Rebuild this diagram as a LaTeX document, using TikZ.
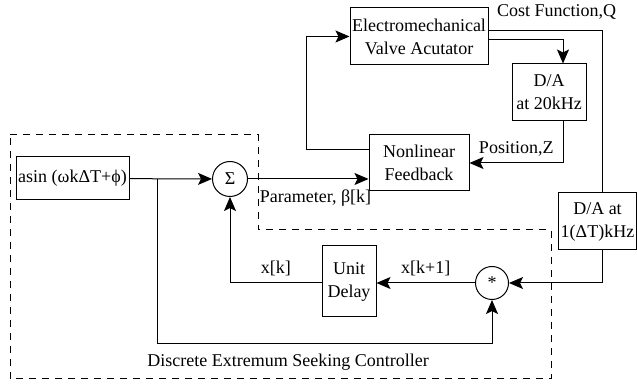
\documentclass[tikz,border=0pt]{standalone}
\usepackage{fontspec}
\setmainfont{Liberation Serif}
\usetikzlibrary{arrows.meta}

\begin{document}
\begin{tikzpicture}[x=0.5pt, y=-0.5pt, line width=0.5pt,
        font=\fontsize{9}{11.5}\selectfont,
        block/.style={draw, rectangle, align=center, inner sep=1pt},
        junction/.style={draw, circle, inner sep=0pt},
        arr/.style={-{Stealth[length=7pt, width=6pt, inset=1.5pt]}},
        ctrlbound/.style={dash pattern=on 3.5pt off 3pt}]
            \useasboundingbox (0,0) rectangle (637,384);
            % Controller blocks
            \node[block, minimum width=56.5pt, minimum height=21.5pt] (sine)  at ( 72.5,178.5) {asin (ωkΔT+ϕ)};
            \node[junction, minimum size=17.5pt]                      (sum)   at (230.0,179.0) {Σ};
            \node[junction, minimum size=16.5pt]                      (mult)  at (492.0,283.0) {\small *};
            \node[block, minimum width=27pt, minimum height=35.5pt]   (delay) at (349.0,281.5) {Unit\\Delay};
            % Plant blocks
            \node[block, minimum width=50pt, minimum height=28pt]     (nlf)   at (419.0,163.0) {Nonlinear\\Feedback};
            \node[block, minimum width=69pt, minimum height=28.5pt]   (emva)  at (419.0, 36.5) {Electromechanical\\Valve Acutator};
            \node[block, minimum width=37pt, minimum height=28.5pt]   (da20)  at (549.0, 92.5) {D/A\\at 20kHz};
            \node[block, minimum width=38.5pt, minimum height=28.5pt] (da1)   at (597.5,221.5) {D/A at\\1(ΔT)kHz};
            % Perturbation path
            \coordinate (br) at (157,179);
            \draw[arr] (sine) -- (sum);
            \draw[arr] (br) -- (157,344) -| (mult);
            \draw[arr] (sum) -- (sum -| nlf.west)
                 node[below=2pt, pos=0.56] {Parameter, β[k]};
            % Valve loop
            \draw[arr] ([yshift=6.5pt]nlf.west) -- ++(-62,0) |- (emva.west);
            \draw[arr] ([yshift=-1.75pt]emva.east) -| ([xshift=7pt]da20.north);
            \draw[arr] ([xshift=7pt]da20.south) |- (nlf.east)
                 node[above, pos=0.75] {Position,Z};
            % Cost feedback
            \draw ([yshift=2.75pt]emva.east) -| ([xshift=2.25pt]da1.north)
                 node[above=2pt, pos=0.3] {Cost Function,Q};
            \draw[arr] ([xshift=2.25pt]da1.south) |- (mult);
            \draw[arr] (mult) -- (mult -| delay.east)
                 node[above, midway] {x[k+1]};
            \draw[arr] (delay.west |- mult) -| (sum)
                 node[above, pos=0.25] {x[k]};
            % Controller boundary
            \draw[ctrlbound] (10,135) -- (258,135) -- (258,230) -- (551,230) -- (551,379) -- (10,379) -- cycle;
            \node (ctrl) at (288,362) {Discrete Extremum Seeking Controller};
\end{tikzpicture}
\end{document}
